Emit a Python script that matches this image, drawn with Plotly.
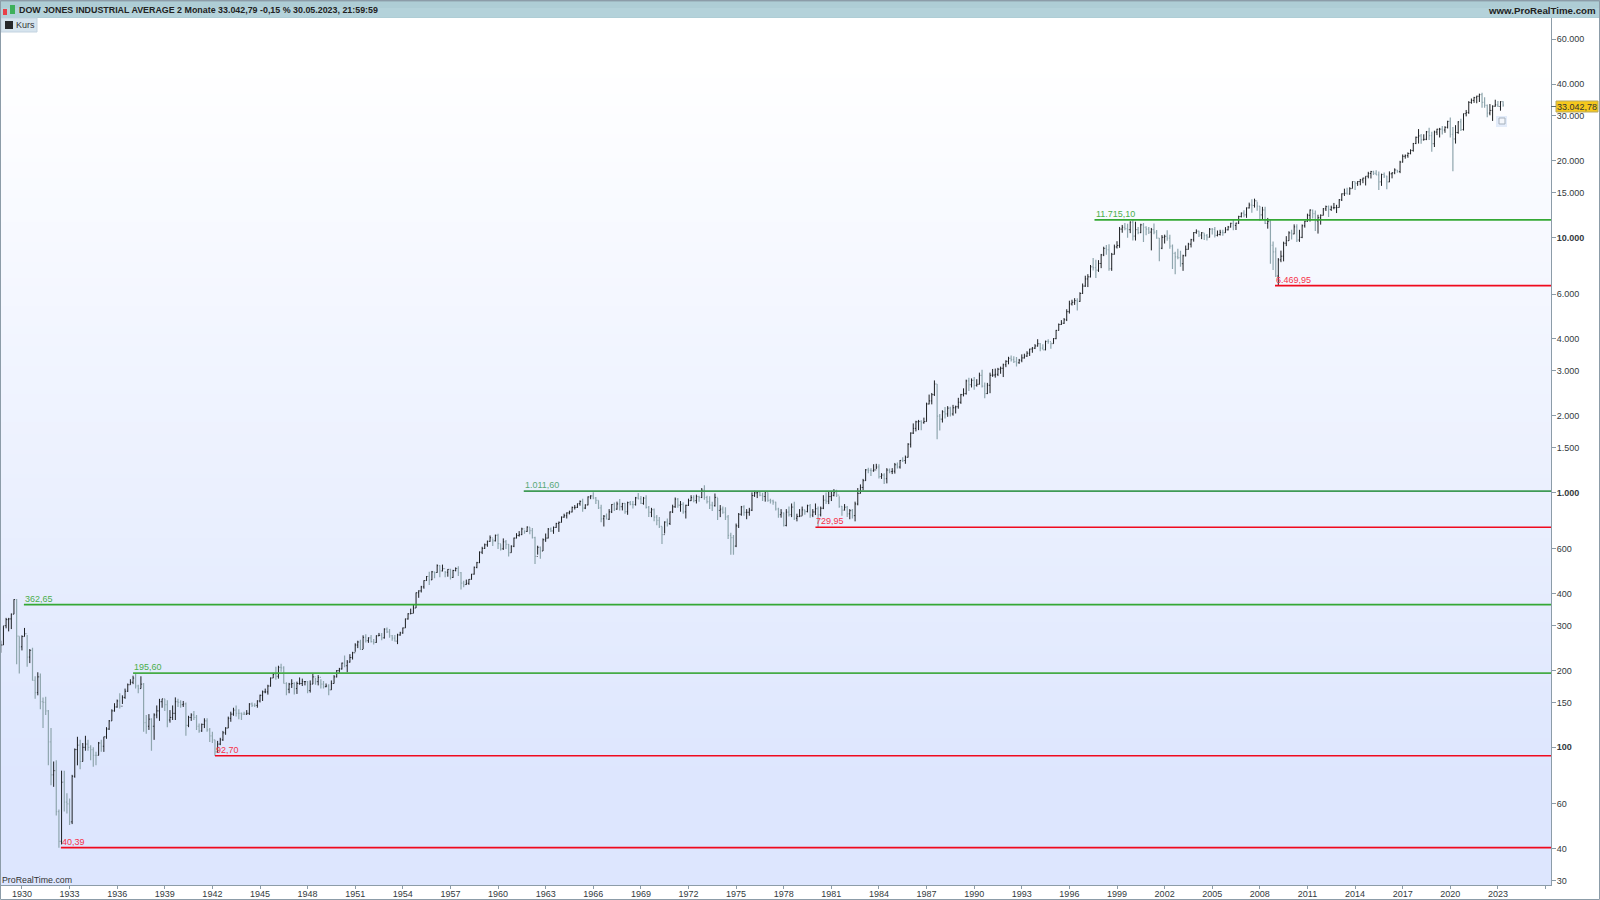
import math
import plotly.graph_objs as go

# two month bars, Sep-Oct 1928 to May-Jun 2023, one row per year
closes = [
    252, 300,
    317, 319, 333, 380, 273, 248,
    272, 279, 226, 240, 183, 164,
    189, 151, 150, 139, 105, 78,
    81, 56, 42.8, 73, 61, 60,
    51, 77, 98, 102, 88, 100,
    103, 100, 98, 93, 93, 104,
    101, 110, 118, 127, 139, 144,
    152, 145, 157, 166, 176, 180,
    187, 174, 170, 177, 125, 121,
    129, 121, 134, 139, 151, 155,
    147, 128, 131, 136, 151, 150,
    147, 148, 122, 131, 134, 131,
    121, 116, 123, 127, 117, 111,
    107, 96, 103, 107, 114, 119,
    130, 135, 140, 136, 136, 135,
    135, 136, 148, 146, 146, 152,
    160, 165, 165, 174, 187, 193,
    190, 206, 205, 178, 169, 177,
    178, 170, 178, 178, 181, 181,
    167, 177, 189, 181, 188, 177,
    173, 174, 168, 178, 189, 200,
    203, 214, 209, 216, 225, 235,
    252, 259, 242, 270, 262, 269,
    260, 258, 274, 275, 269, 291,
    284, 274, 268, 261, 276, 281,
    294, 319, 334, 335, 352, 404,
    411, 426, 451, 468, 454, 488,
    485, 516, 492, 502, 486, 499,
    464, 494, 503, 484, 441, 435,
    440, 456, 478, 508, 530, 583,
    603, 623, 643, 664, 646, 679,
    630, 601, 640, 625, 580, 615,
    662, 678, 683, 719, 703, 731,
    708, 665, 561, 609, 589, 652,
    662, 718, 706, 729, 755, 763,
    800, 810, 831, 838, 873, 874,
    903, 922, 868, 893, 960, 969,
    951, 931, 870, 788, 807, 785,
    839, 897, 860, 901, 879, 905,
    840, 912, 897, 896, 952, 943,
    905, 950, 873, 836, 855, 800,
    777, 736, 683, 765, 755, 838,
    878, 941, 891, 898, 839, 890,
    928, 954, 929, 963, 955, 1020,
    955, 921, 891, 887, 956, 850,
    860, 836, 802, 678, 665, 616,
    739, 821, 878, 835, 836, 852,
    972, 996, 1002, 974, 964, 1004,
    931, 926, 916, 861, 818, 831,
    742, 837, 818, 876, 792, 805,
    808, 854, 841, 887, 815, 838,
    863, 817, 867, 932, 924, 963,
    974, 997, 976, 881, 852, 875,
    824, 848, 811, 901, 991, 1046,
    1112, 1226, 1221, 1216, 1225, 1258,
    1154, 1170, 1132, 1224, 1207, 1211,
    1284, 1258, 1335, 1334, 1374, 1546,
    1709, 1783, 1892, 1898, 1877, 1896,
    2223, 2286, 2418, 2662, 1993, 1938,
    2071, 2032, 2141, 2031, 2148, 2168,
    2258, 2418, 2440, 2737, 2645, 2753,
    2627, 2656, 2880, 2614, 2442, 2633,
    2882, 2887, 2906, 3043, 3069, 3168,
    3267, 3359, 3318, 3257, 3226, 3301,
    3370, 3427, 3516, 3651, 3680, 3754,
    3832, 3681, 3625, 3913, 3908, 3834,
    4011, 4321, 4556, 4610, 4756, 5117,
    5485, 5569, 5654, 5616, 6029, 6448,
    6877, 7009, 7672, 7622, 7442, 7908,
    8545, 9063, 8952, 7539, 8592, 9181,
    9306, 10789, 10970, 10829, 10729, 11497,
    10128, 10734, 10448, 11215, 10971, 10788,
    10495, 10735, 10502, 9950, 9075, 10021,
    10106, 9946, 9243, 8664, 8397, 8342,
    7891, 8480, 8985, 9416, 9801, 10454,
    10584, 10226, 10435, 10174, 10027, 10783,
    10766, 10193, 10275, 10481, 10440, 10717,
    10993, 11367, 11150, 11381, 12080, 12463,
    12268, 13062, 13408, 13357, 13930, 13264,
    12266, 12820, 11350, 11543, 9325, 8776,
    7062, 8168, 8447, 9496, 9712, 10428,
    10325, 11008, 9774, 10014, 11118, 11577,
    12226, 12810, 12414, 11613, 11955, 12217,
    12952, 13213, 12880, 13090, 13096, 13104,
    14054, 14839, 14909, 14810, 15545, 16576,
    16321, 16580, 16826, 17098, 17390, 17823,
    18132, 17840, 17619, 16528, 17663, 17425,
    16516, 17773, 17929, 18400, 18142, 19762,
    20812, 20940, 21349, 21948, 23377, 24719,
    25029, 24163, 24271, 25964, 25115, 23327,
    25916, 26592, 26599, 26403, 27046, 28538,
    25409, 24345, 25812, 28430, 26501, 30606,
    30932, 33874, 34502, 35360, 35819, 36338,
    33892, 32977, 30775, 31510, 32732, 33147,
    32656, 34098, 33042.78,
]
highs = [
    262, 299,
    322, 322, 335, 381, 382, 273,
    275, 294, 276, 243, 246, 190,
    197, 195, 157, 158, 140, 119,
    88, 89, 57, 81, 81, 66,
    63, 78, 99, 110, 107, 104,
    111, 107, 102, 100, 96, 105,
    107, 110, 120, 128, 141, 149,
    154, 163, 160, 170, 178, 185,
    191, 195, 176, 190, 179, 134,
    135, 130, 136, 146, 155, 155,
    155, 153, 140, 146, 157, 155,
    153, 152, 150, 133, 136, 139,
    134, 124, 124, 130, 130, 119,
    115, 107, 106, 109, 116, 120,
    132, 138, 143, 146, 141, 137,
    138, 140, 149, 150, 149, 153,
    161, 167, 170, 176, 188, 196,
    207, 209, 213, 208, 180, 179,
    185, 180, 181, 188, 186, 182,
    182, 183, 194, 187, 192, 185,
    182, 178, 177, 183, 192, 201,
    205, 215, 229, 220, 232, 237,
    256, 262, 264, 275, 278, 270,
    276, 266, 275, 281, 281, 293,
    295, 291, 276, 276, 279, 284,
    295, 320, 336, 350, 365, 405,
    413, 430, 452, 470, 488, 492,
    488, 522, 518, 521, 492, 500,
    502, 497, 508, 513, 487, 450,
    455, 457, 479, 512, 534, 587,
    612, 630, 647, 678, 660, 683,
    688, 626, 660, 650, 627, 620,
    665, 692, 705, 727, 710, 736,
    730, 725, 670, 618, 613, 660,
    690, 725, 729, 735, 760, 769,
    805, 825, 835, 848, 880, 892,
    905, 930, 945, 898, 965, 975,
    1001, 960, 930, 895, 815, 827,
    860, 900, 912, 920, 943, 910,
    908, 920, 925, 925, 960, 994,
    968, 960, 974, 885, 870, 865,
    815, 800, 735, 770, 790, 842,
    895, 955, 950, 925, 915, 895,
    945, 975, 975, 980, 970, 1040,
    1067, 970, 965, 920, 990, 950,
    892, 880, 875, 815, 695, 680,
    755, 830, 885, 890, 860, 870,
    1000, 1015, 1010, 1012, 998, 1010,
    1000, 945, 935, 920, 870, 860,
    835, 860, 880, 905, 920, 825,
    860, 880, 855, 895, 900, 860,
    905, 880, 880, 975, 1000, 1010,
    1010, 1030, 1025, 965, 885, 900,
    885, 860, 860, 920, 1040, 1075,
    1130, 1235, 1250, 1245, 1290, 1295,
    1290, 1190, 1190, 1245, 1240, 1245,
    1305, 1310, 1340, 1375, 1395, 1560,
    1720, 1865, 1910, 1925, 1920, 1965,
    2250, 2420, 2455, 2750, 2660, 2030,
    2100, 2165, 2180, 2170, 2205, 2190,
    2350, 2435, 2560, 2770, 2820, 2800,
    2835, 2780, 2950, 3025, 2700, 2690,
    2950, 3050, 3060, 3080, 3115, 3200,
    3300, 3405, 3445, 3420, 3400, 3340,
    3480, 3500, 3580, 3660, 3720, 3815,
    3990, 3860, 3815, 3940, 3990, 3880,
    4030, 4340, 4600, 4740, 4830, 5230,
    5650, 5700, 5780, 5780, 6100, 6600,
    7080, 7180, 7800, 8300, 8180, 8150,
    8620, 9200, 9340, 9410, 8700, 9380,
    9670, 11000, 11200, 11400, 11330, 11570,
    11750, 11530, 11000, 11320, 11400, 11080,
    11000, 10900, 11350, 10700, 9950, 10220,
    10260, 10680, 10260, 9380, 8800, 9040,
    8870, 8560, 9300, 9530, 9880, 10500,
    10760, 10630, 10500, 10380, 10310, 10890,
    10890, 11000, 10650, 10720, 10720, 10980,
    11100, 11420, 11700, 11430, 12170, 12530,
    12800, 13120, 13700, 14120, 14200, 13800,
    13280, 13190, 13190, 11930, 11800, 9650,
    9130, 8300, 8880, 9630, 10120, 10580,
    10730, 11260, 11260, 10720, 11250, 11630,
    12400, 12890, 12870, 12750, 12280, 12320,
    13050, 13340, 13340, 13330, 13660, 13430,
    14150, 14890, 15540, 15660, 15750, 16590,
    16590, 16630, 16970, 17160, 17390, 18100,
    18250, 18290, 18350, 18140, 17800, 17980,
    17450, 18170, 18020, 18670, 18400, 19990,
    21170, 21170, 21570, 22180, 23490, 24880,
    26620, 25450, 25400, 26170, 26950, 25980,
    26240, 26700, 26910, 27400, 27310, 28700,
    29570, 27100, 27580, 28580, 29200, 30640,
    31640, 34260, 35090, 35630, 36000, 36680,
    36950, 35490, 33270, 33380, 33000, 34710,
    34330, 34260, 34260,
]
lows = [
    235, 252,
    293, 285, 291, 333, 212, 195,
    240, 272, 207, 214, 183, 155,
    160, 141, 119, 134, 85, 71,
    70, 54, 40.39, 41.6, 56, 55,
    49.6, 50, 76, 85, 82, 88,
    97, 97, 89, 84, 85, 93,
    96, 96, 108, 117, 127, 138,
    143, 142, 148, 155, 165, 176,
    177, 170, 163, 170, 115, 113,
    117, 97, 107, 130, 127, 143,
    139, 120, 125, 128, 128, 144,
    143, 144, 111, 120, 127, 128,
    117, 114, 115, 119, 115, 105,
    104, 92.7, 95, 102, 106, 112,
    119, 126, 133, 132, 129, 128,
    134, 134, 134, 144, 144, 143,
    150, 152, 163, 161, 173, 187,
    184, 186, 198, 178, 160, 163,
    171, 161, 162, 176, 174, 175,
    163, 164, 177, 176, 175, 170,
    170, 172, 160, 168, 178, 188,
    196, 202, 206, 197, 215, 221,
    237, 245, 241, 243, 258, 257,
    258, 253, 257, 273, 263, 267,
    281, 269, 262, 260, 254, 274,
    279, 294, 317, 333, 336, 352,
    386, 405, 419, 450, 433, 453,
    461, 484, 465, 490, 465, 467,
    455, 462, 490, 470, 416, 425,
    434, 434, 455, 476, 504, 528,
    573, 600, 612, 640, 616, 642,
    600, 592, 595, 600, 561, 580,
    610, 660, 671, 680, 689, 700,
    685, 660, 524, 570, 549, 589,
    640, 660, 700, 688, 726, 700,
    762, 795, 790, 820, 835, 857,
    869, 887, 840, 860, 890, 941,
    940, 900, 860, 764, 735, 785,
    780, 830, 845, 855, 849, 850,
    825, 817, 890, 865, 888, 940,
    900, 895, 865, 800, 800, 770,
    744, 725, 627, 690, 735, 745,
    830, 870, 870, 840, 825, 790,
    885, 925, 915, 905, 920, 950,
    935, 905, 860, 845, 880, 780,
    800, 825, 780, 656, 570, 570,
    610, 725, 810, 810, 785, 810,
    845, 960, 950, 965, 925, 920,
    920, 905, 895, 850, 795, 796,
    735, 736, 805, 800, 780, 770,
    800, 810, 818, 835, 795, 800,
    815, 730, 805, 860, 900, 900,
    925, 965, 960, 870, 810, 850,
    800, 785, 790, 770, 890, 990,
    1020, 1110, 1190, 1160, 1205, 1235,
    1135, 1130, 1080, 1085, 1190, 1180,
    1185, 1240, 1240, 1315, 1295, 1370,
    1500, 1695, 1735, 1755, 1755, 1860,
    1895, 2215, 2215, 2390, 1615, 1750,
    1880, 1950, 1980, 1985, 2000, 2040,
    2130, 2225, 2380, 2420, 2500, 2580,
    2530, 2600, 2650, 2580, 2340, 2430,
    2450, 2840, 2820, 2860, 2920, 2835,
    3100, 3180, 3260, 3220, 3115, 3195,
    3240, 3350, 3400, 3430, 3530, 3650,
    3730, 3580, 3625, 3610, 3830, 3660,
    3830, 3990, 4310, 4540, 4580, 4700,
    5030, 5410, 5440, 5170, 5590, 6010,
    6400, 6390, 6970, 7430, 6930, 7330,
    7580, 8450, 8550, 7400, 7400, 8570,
    9050, 9110, 10440, 10680, 9980, 10400,
    9730, 9730, 10300, 10400, 9600, 10200,
    10310, 8900, 10300, 9880, 8060, 9000,
    9470, 9700, 9030, 7530, 7180, 8210,
    7670, 7400, 8430, 8960, 9140, 9630,
    10340, 10050, 9850, 9780, 9730, 10000,
    10270, 10010, 10100, 10180, 10160, 10430,
    10660, 10940, 10680, 10700, 11300, 11980,
    12000, 11940, 12990, 12500, 13100, 12720,
    11630, 11730, 11290, 10830, 7880, 7450,
    7000, 6470, 8000, 8060, 9250, 9700,
    9830, 10300, 9610, 9610, 9940, 10930,
    11530, 11550, 11860, 10600, 10360, 11230,
    12200, 12700, 12030, 12710, 12900, 12470,
    13100, 13900, 14550, 14760, 14720, 15570,
    15340, 15940, 16020, 16330, 16000, 17060,
    17040, 17580, 17580, 15370, 15940, 17130,
    15450, 16490, 17060, 17710, 17960, 17880,
    19670, 20380, 20550, 21190, 21710, 23240,
    23360, 23340, 23990, 24090, 24120, 21710,
    22640, 25210, 24680, 25340, 25740, 26770,
    24680, 18210, 23360, 25520, 26140, 26270,
    29860, 30550, 33470, 33740, 33610, 34000,
    32270, 32270, 29650, 30140, 28660, 32580,
    32500, 31430, 32590,
]

year_labels = list(range(1930, 2024, 3))
price_ticks = [60000, 40000, 30000, 20000, 15000, 10000, 6000, 4000, 3000, 2000, 1500, 1000,
               600, 400, 300, 200, 150, 100, 60, 40, 30]
price_labels = ['60.000', '40.000', '30.000', '20.000', '15.000', '<b>10.000</b>', '6.000', '4.000',
                '3.000', '2.000', '1.500', '<b>1.000</b>', '600', '400', '300', '200', '150',
                '<b>100</b>', '60', '40', '30']

# support / resistance levels
level_values = [362.65, 195.60, 92.70, 40.39, 1011.60, 729.95, 11715.10, 6469.95]
level_labels = ['362,65', '195,60', '92,70', '40,39', '1.011,60', '729,95', '11.715,10', '6.469,95']
level_starts = ['1930-02-15', '1937-01-01', '1942-03-01', '1932-06-15',
                '1961-08-15', '1980-01-01', '1997-08-01', '2008-12-15']
level_colors = ['#35a835', '#45ab45', '#f00a1e', '#f00a1e', '#3f9a55', '#f00a1e', '#35a835', '#f00a1e']
label_colors = ['#4bae4b', '#4bae4b', '#f5324a', '#f5324a', '#5aa878', '#f5324a', '#4bae4b', '#f5324a']

X_LEFT, X_RIGHT = '1928-09-06', '2026-05-07'
Y_LOW, Y_HIGH = 1.460, 4.861
W, H, L, R, T, B = 1600, 900, 1, 49, 18, 15
FONT = 'Liberation Sans'
AXIS = '#8c9ca8'


def px(x):
    return (x - L) / (W - L - R)


def py(y):
    return (H - B - y) / (H - T - B)


def box(x0, y0, x1, y1, fill, line=None, layer='above'):
    return dict(type='rect', xref='paper', yref='paper', x0=px(x0), x1=px(x1), y0=py(y1), y1=py(y0), layer=layer,
                fillcolor=fill, line=dict(color=line or fill, width=1 if line else 0))


def label(x, y, text, size=9, color='#222222', anchor='left'):
    return dict(xref='paper', yref='paper', x=px(x), y=py(y), text=text, showarrow=False, xanchor=anchor,
                yanchor='middle', font=dict(family=FONT, size=size, color=color))


def band_color(y):
    # white at the top to pale blue at the bottom of the plot
    t = min(max((y - 60) / 720, 0), 1)
    return f'rgb({round(255 - 34 * t)},{round(255 - 25 * t)},{round(255 - 1 * t)})'


bar_dates = []
for i in range(len(closes)):
    month = 8 + i * 2
    bar_dates.append(f'{1928 + month // 12}-{month % 12 + 1:02d}-01')
opens = [240] + closes[:-1]

data = []
for value, start, color in zip(level_values, level_starts, level_colors):
    data.append(go.Scatter(x=[start, X_RIGHT], y=[value, value], mode='lines', line=dict(color=color, width=1.7),
                           hoverinfo='skip', showlegend=False))
data.append(go.Ohlc(x=bar_dates, open=opens, high=highs, low=lows, close=closes, tickwidth=0.35, showlegend=False,
                    increasing=dict(line=dict(color='#1c1f22', width=1)),
                    decreasing=dict(line=dict(color='#8fa6ae', width=1.2))))

fig = go.Figure(data=data)

shapes = [box(L, y, W - R, y + 4, band_color(y), layer='below') for y in range(T, H - B, 4)]
shapes += [
    box(0, 0, 1600, 18, '#aecdd5'),
    box(0, 0, 1600, 2, '#9fb9c2'),
    box(0, 8, 1600, 17, '#b4d2da'),
    box(1, 18, 37, 32, '#d6e4ee', '#c3d3e0'),
    box(5, 21, 13, 29, '#26282a'),
    box(3, 9, 7, 15, '#e8404a'),
    box(10, 5, 15, 14, '#3db05a'),
    box(0.5, 0.5, 1599.5, 899.5, 'rgba(0,0,0,0)', AXIS),
    box(1556, 101, 1598, 112, '#f6c81c', '#b8a860'),
    box(1551, 106, 1556, 107, '#5a6a72'),
    box(1496, 116, 1507, 127, '#e3ecfa'),
    box(1499, 118, 1505, 124, '#f4f7fc', '#a5b0bd'),
]
annotations = [
    label(17, 10, '<b>DOW JONES INDUSTRIAL AVERAGE 2 Monate 33.042,79 -0,15 % 30.05.2023, 21:59:59</b>', 8.9),
    label(1598, 10, '<b>www.ProRealTime.com</b>', 9.7, anchor='right'),
    label(14, 25, 'Kurs', 9, '#333333'),
    label(0, 880, 'ProRealTime.com', 8.8, '#333333'),
    label(1555, 106.5, '33.042,78', 9, '#333333'),
]
for value, start, text, color in zip(level_values, level_starts, level_labels, label_colors):
    annotations.append(dict(x=start, y=math.log10(value), text=text, showarrow=False, xanchor='left', yanchor='bottom',
                            yshift=-1, xshift=-1, font=dict(family=FONT, size=9, color=color)))

fig.update_layout(
    width=W, height=H,
    margin=dict(l=L, r=R, t=T, b=B, pad=0),
    paper_bgcolor='white',
    plot_bgcolor='rgba(0,0,0,0)',
    showlegend=False,
    shapes=shapes,
    annotations=annotations,
    font=dict(family=FONT, size=9, color='#333a40'),
    xaxis=dict(type='date', range=[X_LEFT, X_RIGHT], rangeslider=dict(visible=False), showgrid=False, zeroline=False,
               tickmode='array', tickvals=[f'{y}-01-01' for y in year_labels] + ['2026-01-01'],
               ticktext=[str(y) for y in year_labels] + [''], ticklabelstandoff=-3,
               ticks='outside', ticklen=3, tickcolor=AXIS, showline=True, linecolor=AXIS, linewidth=1,
               tickfont=dict(family=FONT, size=9, color='#333a40'), automargin=False),
    yaxis=dict(type='log', range=[Y_LOW, Y_HIGH], side='right', showgrid=False, zeroline=False,
               tickmode='array', tickvals=price_ticks, ticktext=price_labels, ticklabelstandoff=-1,
               ticks='outside', ticklen=4, tickcolor=AXIS, showline=True, linecolor=AXIS, linewidth=1,
               tickfont=dict(family=FONT, size=9, color='#333a40'), automargin=False),
)

fig.write_html('out.html', config=dict(displayModeBar=False),
               post_script="document.body.style.margin='0';document.body.style.overflow='hidden';")
